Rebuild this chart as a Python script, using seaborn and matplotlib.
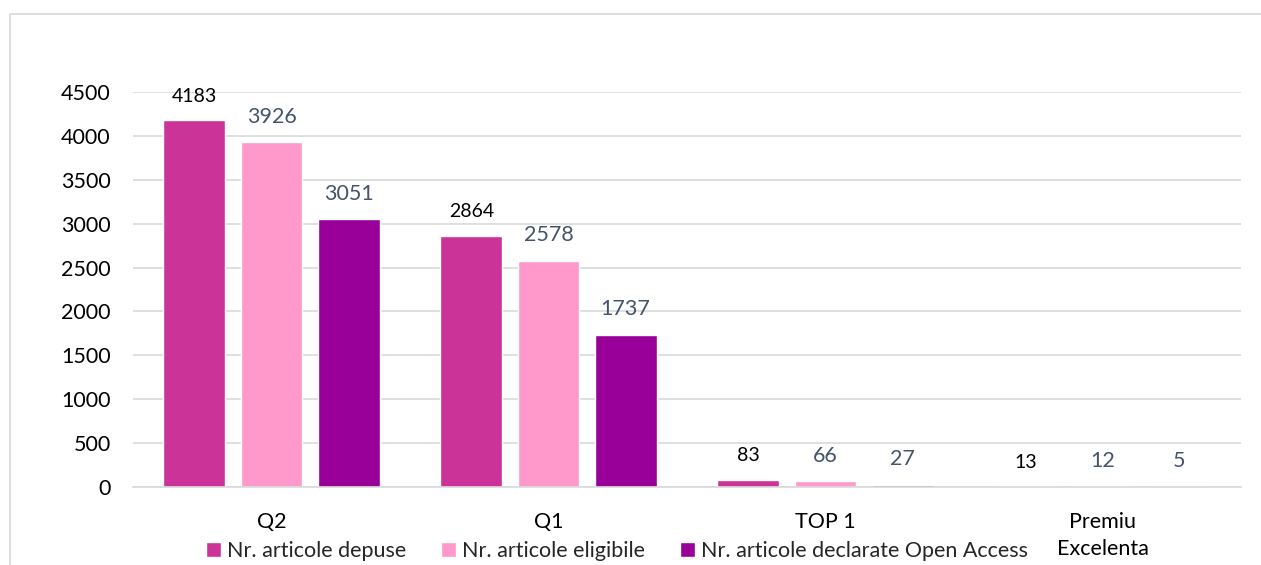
import pandas as pd
import matplotlib.pyplot as plt
import seaborn as sns
from matplotlib.patches import Rectangle

# data
categories = ["Q2", "Q1", "TOP 1", "Premiu\nExcelenta"]
series = ["Nr. articole depuse", "Nr. articole eligibile",
          "Nr. articole declarate Open Access"]
depuse = [4183, 2864, 83, 13]
eligibile = [3926, 2578, 66, 12]
open_access = [3051, 1737, 27, 5]
yticks = [0, 500, 1000, 1500, 2000, 2500, 3000, 3500, 4000, 4500]

colors = ["#CC3399", "#FF99CC", "#990099"]
label_colors = ["#000000", "#44546A", "#44546A"]
label_sizes = [14, 15.5, 15.5]

df = pd.DataFrame({
    "cat": categories * 3,
    "serie": [series[0]] * 4 + [series[1]] * 4 + [series[2]] * 4,
    "val": depuse + eligibile + open_access,
})

sns.set_style("white")
plt.rcParams["font.family"] = ["Lato", "DejaVu Sans"]

W, H = 1261, 565
fig = plt.figure(figsize=(W / 100, H / 100), dpi=100)
ax = fig.add_axes([133 / W, 1 - 487 / H, (1241 - 133) / W, (487 - 92) / H])

sns.barplot(data=df, x="cat", y="val", hue="serie", palette=colors,
            saturation=1, width=0.834, gap=0.195, ax=ax, legend=True)

ax.set_ylim(0, 4500)
ax.set_xlim(-0.5, 3.5)
ax.set_yticks(yticks)
ax.grid(axis="y", color="#D9D9D9", linewidth=1.2)
ax.set_axisbelow(True)
for s in ["top", "right", "left"]:
    ax.spines[s].set_visible(False)
ax.spines["bottom"].set_color("#D9D9D9")
ax.spines["bottom"].set_linewidth(1.2)
ax.tick_params(axis="both", length=0, labelsize=15.5, colors="#000000")
ax.tick_params(axis="y", pad=16)
ax.tick_params(axis="x", pad=18)
for t in ax.get_xticklabels():
    t.set_linespacing(1.45)
ax.set_xlabel("")
ax.set_ylabel("")

for i, cont in enumerate(ax.containers):
    ax.bar_label(cont, padding=11, color=label_colors[i],
                 fontsize=label_sizes[i], clip_on=False)

ax.legend(loc="center", bbox_to_anchor=(617 / W, 1 - 551 / H),
          bbox_transform=fig.transFigure, ncol=3, frameon=False,
          fontsize=15.5, handlelength=0.7, handleheight=0.7,
          handletextpad=0.3, columnspacing=1.6, borderpad=0)

# outer chart frame
fig.patches.append(Rectangle((10 / W, -0.1), 1.2, 1 - 14 / H + 0.1,
                             transform=fig.transFigure, fill=False,
                             edgecolor="#D9D9D9", linewidth=1.2))

fig.savefig("out.png", dpi=100)
